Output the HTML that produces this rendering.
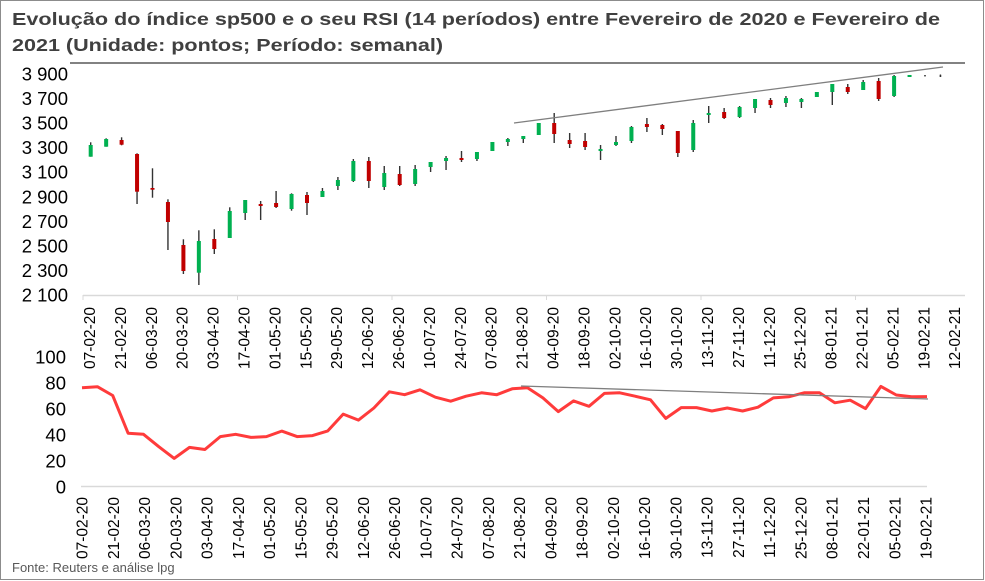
<!DOCTYPE html>
<html><head><meta charset="utf-8">
<style>
html,body{margin:0;padding:0;background:#fff;}
svg{display:block;font-family:"Liberation Sans",Arial,sans-serif;}
</style></head>
<body>
<svg id="s" width="985" height="581" viewBox="0 0 985 581" xmlns="http://www.w3.org/2000/svg">
<rect x="0.5" y="0.5" width="983" height="579" fill="#fff" stroke="#8c8c8c" stroke-width="1"/>
<text x="12" y="25" font-size="17.5" font-weight="bold" fill="#404040" textLength="928" lengthAdjust="spacingAndGlyphs">Evolução do índice sp500 e o seu RSI (14 períodos) entre Fevereiro de 2020 e Fevereiro de</text>
<text x="12" y="51" font-size="17.5" font-weight="bold" fill="#404040" textLength="431" lengthAdjust="spacingAndGlyphs">2021 (Unidade: pontos; Período: semanal)</text>
<line x1="70" y1="63" x2="965" y2="63" stroke="#595959" stroke-width="1.5"/>
<line x1="83" y1="295.5" x2="965" y2="295.5" stroke="#d9d9d9" stroke-width="1.5"/>
<line x1="81" y1="486.5" x2="927" y2="486.5" stroke="#d9d9d9" stroke-width="1.5"/>
<g id="g"></g>
<line x1="514" y1="123" x2="943" y2="67" stroke="#7f7f7f" stroke-width="1.3"/>
<line x1="521" y1="386" x2="928" y2="399" stroke="#7f7f7f" stroke-width="1.3"/>
<text x="12" y="572" font-size="13" fill="#595959">Fonte: Reuters e análise lpg</text>
</svg>
<script>
var g=document.getElementById('g'),h='';
var yl=['3 900','3 700','3 500','3 300','3 100','2 900','2 700','2 500','2 300','2 100'];
for(var i=0;i<yl.length;i++){h+='<text x="68" y="'+(74+i*24.55+6.5)+'" font-size="18.5" text-anchor="end" fill="#000">'+yl[i]+'</text>';}
var rl=[100,80,60,40,20,0];
for(i=0;i<rl.length;i++){h+='<text x="66" y="'+(357+i*26+6.5)+'" font-size="18.5" text-anchor="end" fill="#000">'+rl[i]+'</text>';}
for(i=0;i<6;i++){var tx=83+i*154.5;h+='<line x1="'+tx+'" y1="295" x2="'+tx+'" y2="300" stroke="#d9d9d9" stroke-width="1"/>';}
var L1=['07-02-20','21-02-20','06-03-20','20-03-20','03-04-20','17-04-20','01-05-20','15-05-20','29-05-20','12-06-20','26-06-20','10-07-20','24-07-20','07-08-20','21-08-20','04-09-20','18-09-20','02-10-20','16-10-20','30-10-20','13-11-20','27-11-20','11-12-20','25-12-20','08-01-21','22-01-21','05-02-21','19-02-21','12-02-21'];
for(i=0;i<L1.length;i++){var x=89.5+i*30.9;h+='<text transform="translate('+(x+5.5)+',307) rotate(-90)" font-size="15.5" text-anchor="end" fill="#000">'+L1[i]+'</text>';}
for(i=0;i<28;i++){var x=82+i*31.26;h+='<text transform="translate('+(x+5.5)+',497) rotate(-90)" font-size="15.5" text-anchor="end" fill="#000">'+L1[i]+'</text>';}
var C=[[142.3,156.7,145,156.7,'G'],[138.3,146.7,139,146.7,'G'],[137.3,145.3,140,144.7,'R'],[153.3,204,154,191.7,'R'],[168.3,197.7,188,189.7,'R'],[199.3,250,202,222,'R'],[239.3,274,245,271,'R'],[230.3,285,241,272.7,'G'],[229.3,254,239,249,'R'],[207.3,238,211,238,'G'],[200,220,200,213,'G'],[201,220,204,206,'R'],[191,208,203,207,'R'],[193.3,210.7,194,209,'G'],[192,215,195,203,'R'],[188,197,191,197,'G'],[177,190,180,186,'G'],[159,182,161,181,'G'],[157,188,161,181,'R'],[166,190,173,187,'G'],[166,186,174,185,'R'],[165,186,169,184,'G'],[162,172,162,167,'G'],[156,170,158,161,'G'],[151,162,158,160,'R'],[152,161,152,159,'G'],[142,151,142,151,'G'],[138,146,139,142,'G'],[136,143,136,139,'G'],[123,135,123,135,'G'],[113,143,123,134,'R'],[133,148,140,144,'R'],[133,150,141,147,'R'],[145,160,149,151,'G'],[136,146,142,145,'G'],[126,143,127,141,'G'],[118,132,124,127,'R'],[124,135,125,129,'R'],[131,157,131,153,'R'],[120,152,123,150,'G'],[106,123,113,115,'G'],[108,119,112,118,'R'],[106,118,107,117,'G'],[99,113,99,108,'G'],[98,108,100,105,'R'],[96,107,98,103,'G'],[98,108,99,102,'G'],[92,97,92,97,'G'],[84,105,84,92,'G'],[84,94,87,92,'R'],[80,90,82,90,'G'],[78,101,81,99,'R'],[75,97,76,96,'G'],[75,77,75,77,'G'],[75,75.8,75,75.8,'K'],[74.5,77,75,77,'K']];
for(i=0;i<C.length;i++){var c=C[i],x=90.7+i*15.45;
 h+='<line x1="'+x+'" y1="'+c[0]+'" x2="'+x+'" y2="'+c[1]+'" stroke="#333" stroke-width="1.4"/>';
 var col=c[4]=='G'?'#00b050':(c[4]=='R'?'#c00000':'#333');
 var bh=Math.max(c[3]-c[2],1.5);var w=c[4]=='K'?1.4:4;
 h+='<rect x="'+(x-w/2)+'" y="'+c[2]+'" width="'+w+'" height="'+bh+'" fill="'+col+'"/>';}
var R=[75.6,76.4,69.6,40.6,39.8,30.2,21.2,29.7,28.1,38,39.8,37.4,38,42.2,38,38.8,42.4,55.3,50.7,60,72.5,70.2,74,68.3,65.2,69.1,71.7,70.2,74.8,75.6,67.8,57.2,65.5,61.3,71.2,71.7,69.1,66.3,52,60.3,60.3,57.7,60,57.7,60.6,67.8,68.6,71.7,71.7,64,66,59.5,76.6,70,68.6,68.8];
var p='';for(i=0;i<R.length;i++){p+=(i?'L':'M')+(82+i*(845/(R.length-1))).toFixed(1)+' '+(486-R[i]*1.3).toFixed(1);}
h+='<path d="'+p+'" fill="none" stroke="#ff3b3b" stroke-width="3" stroke-linejoin="round"/>';
g.innerHTML=h;
</script>
</body></html>
